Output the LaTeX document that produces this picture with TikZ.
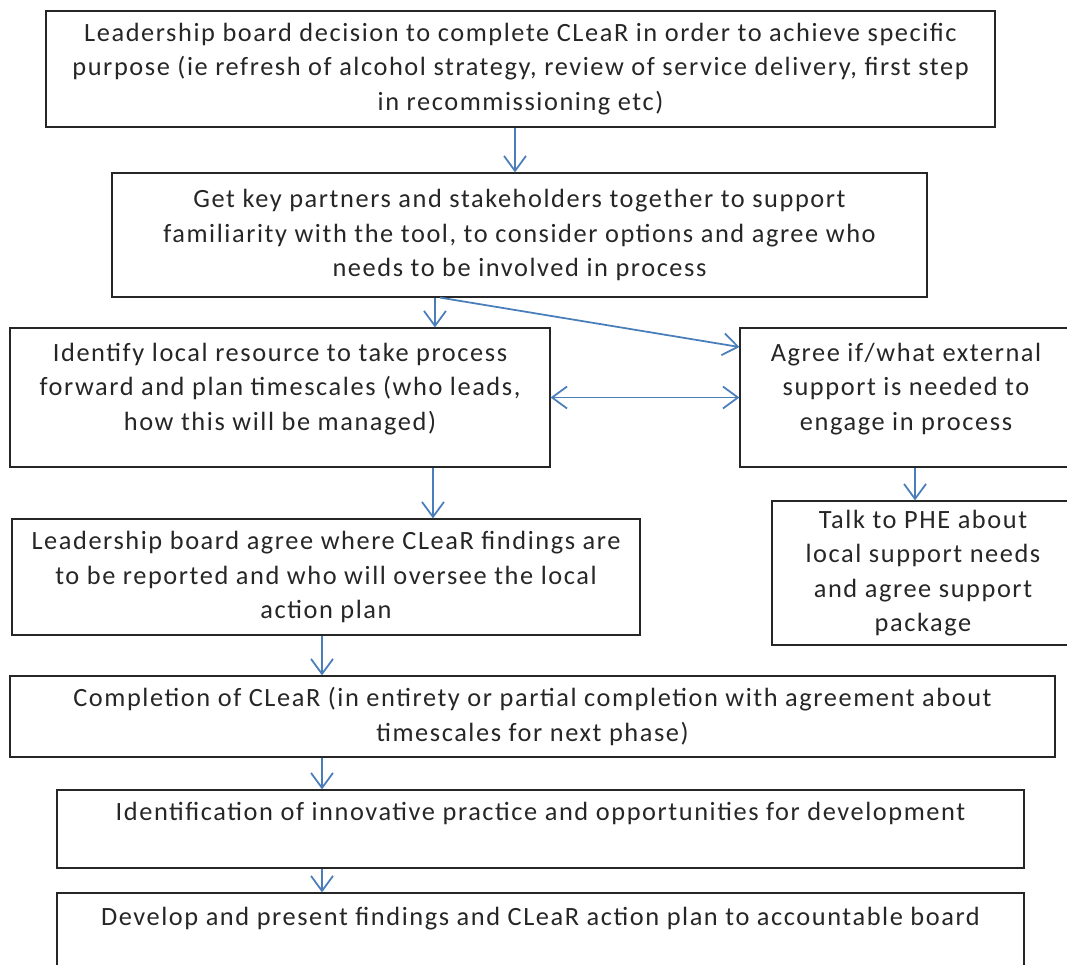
\documentclass[tikz,border=0pt]{standalone}
\usepackage{fontspec}
\setmainfont{Carlito}[LetterSpace=6]
\usepackage{tikz}
\usetikzlibrary{arrows.meta,positioning,calc}
\definecolor{flowblue}{HTML}{4A7EBB}
\definecolor{boxgray}{HTML}{262626}

\begin{document}
\begin{tikzpicture}[x=0.02cm,y=-0.02cm,
  stage/.style={draw=boxgray,line width=0.7pt,rectangle,align=center,inner sep=2pt,
    text=boxgray,font=\fontsize{15pt}{19.6pt}\selectfont},
  flow/.style={draw=flowblue,line width=1pt,-{Straight Barb[length=0.3cm,width=0.44cm]}},
  twoway/.style={draw=flowblue,line width=1pt,{Straight Barb[length=0.3cm,width=0.44cm]}-{Straight Barb[length=0.3cm,width=0.44cm]}}]
\useasboundingbox (0,0) rectangle (1067,964);
\node[stage,minimum width=18.98cm,minimum height=2.32cm] (lead) at (520.5,69)
  {Leadership board decision to complete CLeaR in order to achieve specific\\
   purpose (ie refresh of alcohol strategy, review of service delivery, first step\\
   in recommissioning etc)};
\node[stage,minimum width=16.3cm,minimum height=2.48cm] (partners) at (519.5,235)
  {Get key partners and stakeholders together to support\\
   familiarity with the tool, to consider options and agree who\\
   needs to be involved in process};
\node[stage,minimum width=10.8cm,minimum height=2.78cm] (identify) at (280,397.5)
  {Identify local resource to take process\\
   forward and plan timescales (who leads,\\
   how this will be managed)\\[-7pt]\mbox{}};
\node[stage,minimum width=6.64cm,minimum height=2.78cm] (agree) at (906,397.5)
  {Agree if/what external\\ support is needed to\\ engage in process\\[-7pt]\mbox{}};
\node[stage,minimum width=6.04cm,minimum height=2.88cm] (phe) at (923,573)
  {Talk to PHE about\\ local support needs\\ and agree support\\ package};
\node[stage,minimum width=12.56cm,minimum height=2.32cm] (board) at (326,577)
  {Leadership board agree where CLeaR findings are\\
   to be reported and who will oversee the local\\
   action plan};
\node[stage,minimum width=20.9cm,minimum height=1.62cm] (completion) at (532.5,716.5)
  {Completion of CLeaR (in entirety or partial completion with agreement about\\
   timescales for next phase)};
\node[stage,minimum width=19.34cm,minimum height=1.56cm] (innovation) at (540.5,829)
  {Identification of innovative practice and opportunities for development\\ \mbox{}};
\node[stage,minimum width=19.34cm,minimum height=1.64cm] (present) at (540.5,934)
  {Develop and present findings and CLeaR action plan to accountable board\\ \mbox{}};
% connectors
\draw[flow] ([xshift=-0.11cm]lead.south) -- ([xshift=-0.11cm]lead.south |- partners.north);
\draw[flow] ([xshift=3.1cm]identify.north |- partners.south) -- ([xshift=3.1cm]identify.north);
\draw[flow] ([xshift=-1.59cm]partners.south) -- ([yshift=1.01cm]agree.west);
\draw[twoway] (identify.east) -- (agree.west);
\draw[flow] ([xshift=0.18cm]agree.south) -- ([xshift=0.18cm]agree.south |- phe.north);
\draw[flow] ([xshift=3.06cm]identify.south) -- ([xshift=3.06cm]identify.south |- board.north);
\draw[flow] ([xshift=-0.08cm]board.south) -- ([xshift=-0.08cm]board.south |- completion.north);
\draw[flow] ([xshift=-0.08cm]board.south |- completion.south) -- ([xshift=-0.08cm]board.south |- innovation.north);
\draw[flow] ([xshift=-0.08cm]board.south |- innovation.south) -- ([xshift=-0.08cm]board.south |- present.north);
\end{tikzpicture}
\end{document}
